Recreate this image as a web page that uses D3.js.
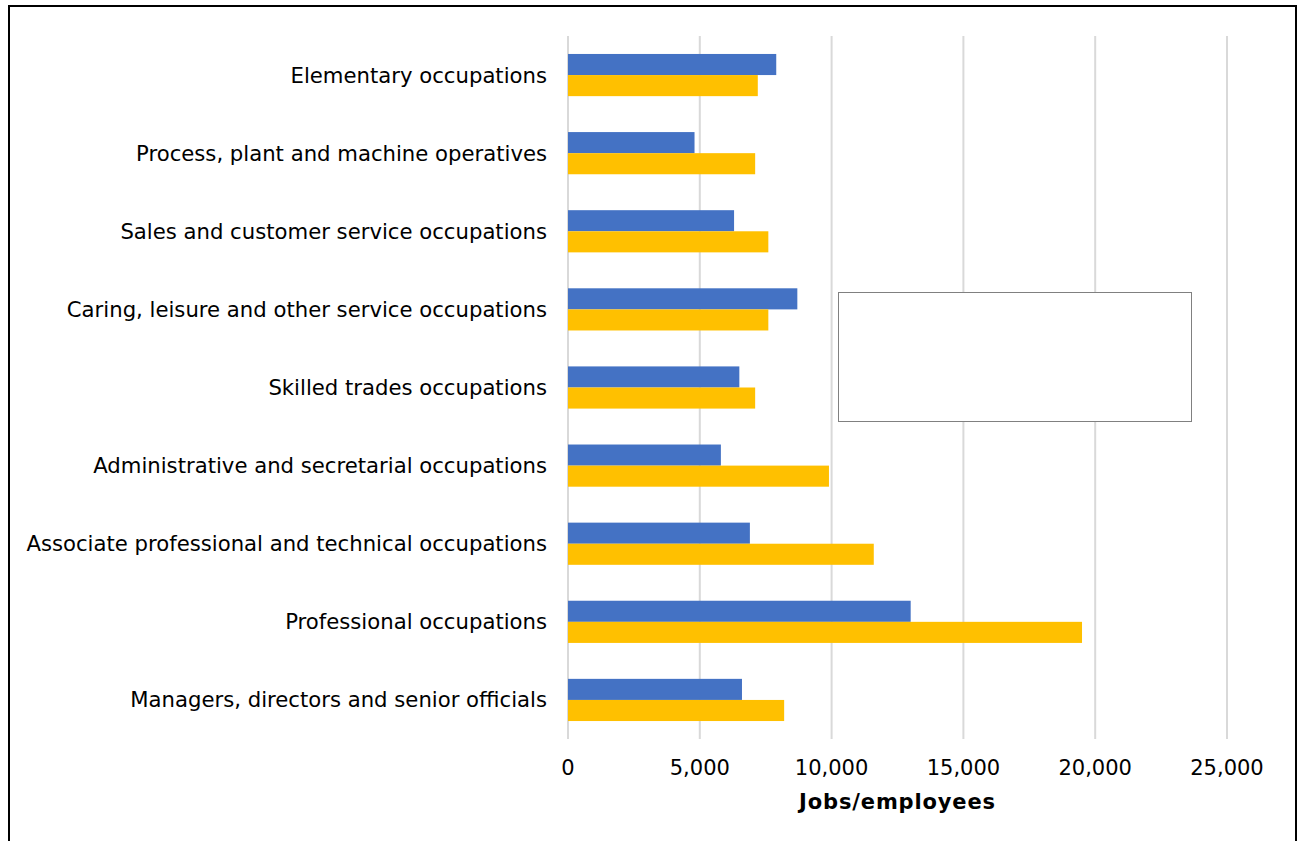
<!DOCTYPE html>
<html><head><meta charset="utf-8">
<script src="https://cdn.jsdelivr.net/npm/d3@7"></script>
<style>
html,body{margin:0;padding:0;background:#fff;}
svg{display:block;}
text{font-family:"DejaVu Sans",Verdana,sans-serif;fill:#000;}
</style></head>
<body>
<script>
const categories = [
  "Elementary occupations",
  "Process, plant and machine operatives",
  "Sales and customer service occupations",
  "Caring, leisure and other service occupations",
  "Skilled trades occupations",
  "Administrative and secretarial occupations",
  "Associate professional and technical occupations",
  "Professional occupations",
  "Managers, directors and senior officials"
];
const seriesNames = ["Series 1", "Series 2"];
const series1 = [7900, 4800, 6300, 8700, 6500, 5800, 6900, 13000, 6600];
const series2 = [7200, 7100, 7600, 7600, 7100, 9900, 11600, 19500, 8200];
const xTicks = [0, 5000, 10000, 15000, 20000, 25000];
const axisTitle = "Jobs/employees";
const colors = ["#4472C4", "#FFC000"];

(function () {
const W = 1300, H = 841;
const svg = d3.select("body").append("svg").attr("width", W).attr("height", H);

// outer frame
svg.append("rect").attr("x", 9).attr("y", 6).attr("width", 1287).attr("height", 860)
  .attr("fill", "none").attr("stroke", "#000").attr("stroke-width", 2);

const pLeft = 568, pRight = 1227, pTop = 36, pBottom = 739;
const x = d3.scaleLinear().domain([0, 25000]).range([pLeft, pRight]);
const y = d3.scaleBand().domain(categories).range([pTop, pBottom]).paddingInner(0.46).paddingOuter(0.23);
const ySub = d3.scaleBand().domain([0, 1]).range([0, y.bandwidth()]);

// gridlines
svg.append("g").selectAll("line").data(xTicks).join("line")
  .attr("x1", d => x(d)).attr("x2", d => x(d))
  .attr("y1", pTop).attr("y2", pBottom)
  .attr("stroke", "#d9d9d9").attr("stroke-width", 2);

// bars
const rows = categories.map((c, i) => ({c, v: [series1[i], series2[i]]}));
const g = svg.append("g");
rows.forEach(r => {
  r.v.forEach((v, k) => {
    g.append("rect")
      .attr("x", x(0)).attr("y", y(r.c) + ySub(k))
      .attr("width", x(v) - x(0)).attr("height", ySub.bandwidth())
      .attr("fill", colors[k]);
  });
});

// category labels
svg.append("g").selectAll("text").data(categories).join("text")
  .attr("x", 547).attr("y", d => y(d) + y.bandwidth() / 2)
  .attr("text-anchor", "end").attr("dominant-baseline", "central")
  .attr("font-size", 21.2).text(d => d);

// x tick labels
const fmt = d3.format(",");
svg.append("g").selectAll("text").data(xTicks).join("text")
  .attr("x", d => x(d)).attr("y", 768)
  .attr("text-anchor", "middle").attr("dominant-baseline", "central")
  .attr("font-size", 21).text(d => fmt(d));

svg.append("text").attr("x", (pLeft + pRight) / 2).attr("y", 802)
  .attr("text-anchor", "middle").attr("dominant-baseline", "central")
  .attr("font-size", 21).attr("font-weight", "bold").attr("letter-spacing", 0.85).text(axisTitle);

// legend box (empty)
svg.append("rect").attr("x", 838.5).attr("y", 292.5).attr("width", 353).attr("height", 129)
  .attr("fill", "#fff").attr("stroke", "#808080").attr("stroke-width", 1);
})();
</script>
</body></html>
